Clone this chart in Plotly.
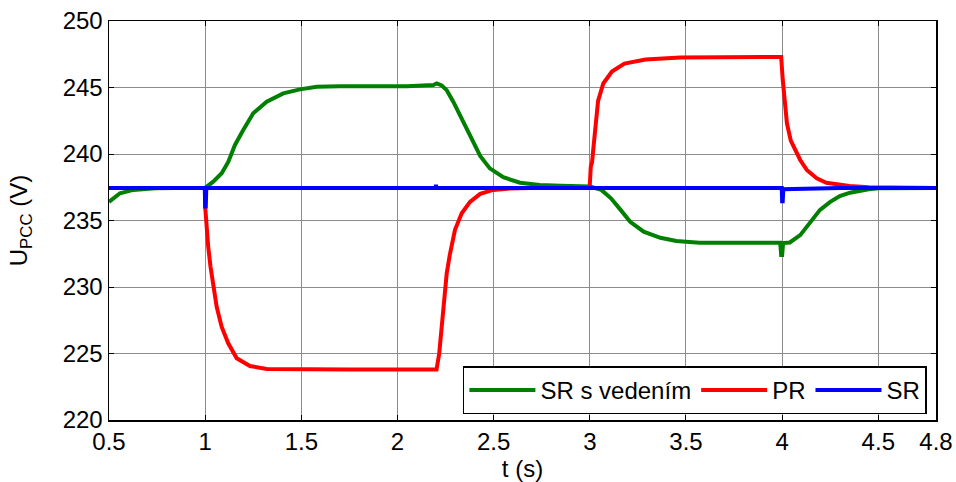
import plotly.graph_objects as go

# ---- data ----
t_green = [0.5, 0.557, 0.626, 0.74, 0.85, 0.95, 1.0, 1.042, 1.086, 1.12, 1.155, 1.198, 1.25, 1.32,
           1.406, 1.493, 1.58, 1.70, 1.91, 2.05, 2.186, 2.204, 2.23, 2.256, 2.29, 2.325, 2.36, 2.395,
           2.43, 2.48, 2.55, 2.637, 2.74, 2.85, 2.915, 3.0, 3.06, 3.11, 3.16, 3.21, 3.28, 3.367,
           3.45, 3.57, 3.80, 3.99, 3.995, 4.0, 4.005, 4.04, 4.094, 4.146, 4.197, 4.25, 4.30, 4.353,
           4.397, 4.45, 4.5, 4.6, 4.7, 4.8]
v_green = [236.4, 237.05, 237.3, 237.42, 237.45, 237.45, 237.45, 237.92, 238.55, 239.4, 240.68, 241.8,
           243.06, 243.93, 244.56, 244.86, 245.06, 245.1, 245.06, 245.1, 245.19, 245.3, 245.15, 244.8,
           243.93, 242.93, 241.8, 240.8, 239.85, 238.92, 238.25, 237.84, 237.67, 237.62, 237.6, 237.55,
           237.3, 236.67, 235.8, 234.9, 234.16, 233.7, 233.46, 233.33, 233.33, 233.33, 232.4, 232.4,
           233.3, 233.35, 233.9, 234.85, 235.8, 236.4, 236.84, 237.09, 237.24, 237.35, 237.42, 237.45,
           237.45, 237.45]

t_red = [0.5, 0.8, 0.999, 1.0, 1.004, 1.016, 1.028, 1.042, 1.06, 1.086, 1.12, 1.164, 1.233, 1.32,
         1.5, 1.753, 2.0, 2.203, 2.217, 2.23, 2.242, 2.256, 2.273, 2.299, 2.334, 2.377, 2.43, 2.498,
         2.585, 2.69, 2.85, 2.999, 3.005, 3.012, 3.017, 3.03, 3.043, 3.07, 3.115, 3.18, 3.29, 3.47,
         3.7, 3.99, 3.995, 4.003, 4.012, 4.025, 4.045, 4.07, 4.094, 4.128, 4.18, 4.23, 4.30, 4.35,
         4.45, 4.6, 4.8]
v_red = [237.45, 237.45, 237.45, 236.04, 235.04, 233.0, 231.5, 230.0, 228.5, 227.0, 225.77, 224.64,
         224.06, 223.84, 223.8, 223.8, 223.8, 223.8, 225.0, 227.0, 229.0, 231.03, 232.5, 234.3, 235.54,
         236.4, 237.0, 237.3, 237.4, 237.45, 237.45, 237.45, 239.05, 239.4, 240.2, 242.4, 244.0, 245.3,
         246.2, 246.8, 247.1, 247.25, 247.3, 247.3, 247.3, 245.6, 243.9, 242.3, 241.0, 240.2, 239.55,
         238.8, 238.17, 237.84, 237.67, 237.6, 237.5, 237.45, 237.45]

t_blue = [0.5, 0.8, 0.998, 1.0, 1.003, 1.006, 1.3, 1.6, 2.0, 2.198, 2.2, 2.202, 2.5, 3.0, 3.5,
          3.998, 4.0, 4.003, 4.006, 4.3, 4.8]
v_blue = [237.45, 237.45, 237.45, 236.05, 236.05, 237.45, 237.45, 237.42, 237.45, 237.45, 237.68,
          237.45, 237.45, 237.45, 237.45, 237.45, 236.45, 236.45, 237.35, 237.45, 237.45]

x_ticks = [0.5, 1, 1.5, 2, 2.5, 3, 3.5, 4, 4.5, 4.8]
x_tick_text = ["0.5", "1", "1.5", "2", "2.5", "3", "3.5", "4", "4.5", "4.8"]
y_ticks = [220, 225, 230, 235, 240, 245, 250]

FONT = "Liberation Sans, Arial, sans-serif"
FS = 24

fig = go.Figure()
fig.add_trace(go.Scatter(x=t_green, y=v_green, mode="lines", name="SR s vedením",
                         line=dict(color="#008000", width=4)))
fig.add_trace(go.Scatter(x=t_red, y=v_red, mode="lines", name="PR",
                         line=dict(color="#ff0000", width=4)))
fig.add_trace(go.Scatter(x=t_blue, y=v_blue, mode="lines", name="SR",
                         line=dict(color="#0000ff", width=4)))

axis_common = dict(showline=True, linecolor="black", linewidth=1.5, mirror="ticks",
                   ticks="inside", ticklen=5, tickcolor="black", showgrid=True,
                   gridcolor="#8c8c8c", gridwidth=1, zeroline=False, automargin=False,
                   ticklabeloverflow="allow",
                   tickfont=dict(family=FONT, size=FS, color="black"))

fig.update_layout(
    width=956, height=482,
    margin=dict(l=109, r=20, t=21, b=62),
    paper_bgcolor="white", plot_bgcolor="white",
    font=dict(family=FONT, size=FS, color="black"),
    xaxis=dict(range=[0.5, 4.8], tickvals=x_ticks, ticktext=x_tick_text,
               title=dict(text="t (s)", font=dict(family=FONT, size=FS), standoff=0),
               **axis_common),
    yaxis=dict(range=[220, 250], tickvals=y_ticks,
               title=dict(text="U<sub>PCC</sub> (V)", font=dict(family=FONT, size=FS), standoff=28),
               **axis_common),
    legend=dict(orientation="h", x=0.989, y=0.014, xanchor="right", yanchor="bottom",
                bgcolor="white", bordercolor="black", borderwidth=1.5,
                font=dict(family=FONT, size=FS, color="black"), itemwidth=66,
                tracegroupgap=0),
    showlegend=True,
)

# remove the default page margin so the figure sits at the window's top-left corner
fig.write_html("out.html",
               config={"displayModeBar": False, "staticPlot": True},
               post_script="document.body.style.margin='0';document.body.style.overflow='hidden';")
